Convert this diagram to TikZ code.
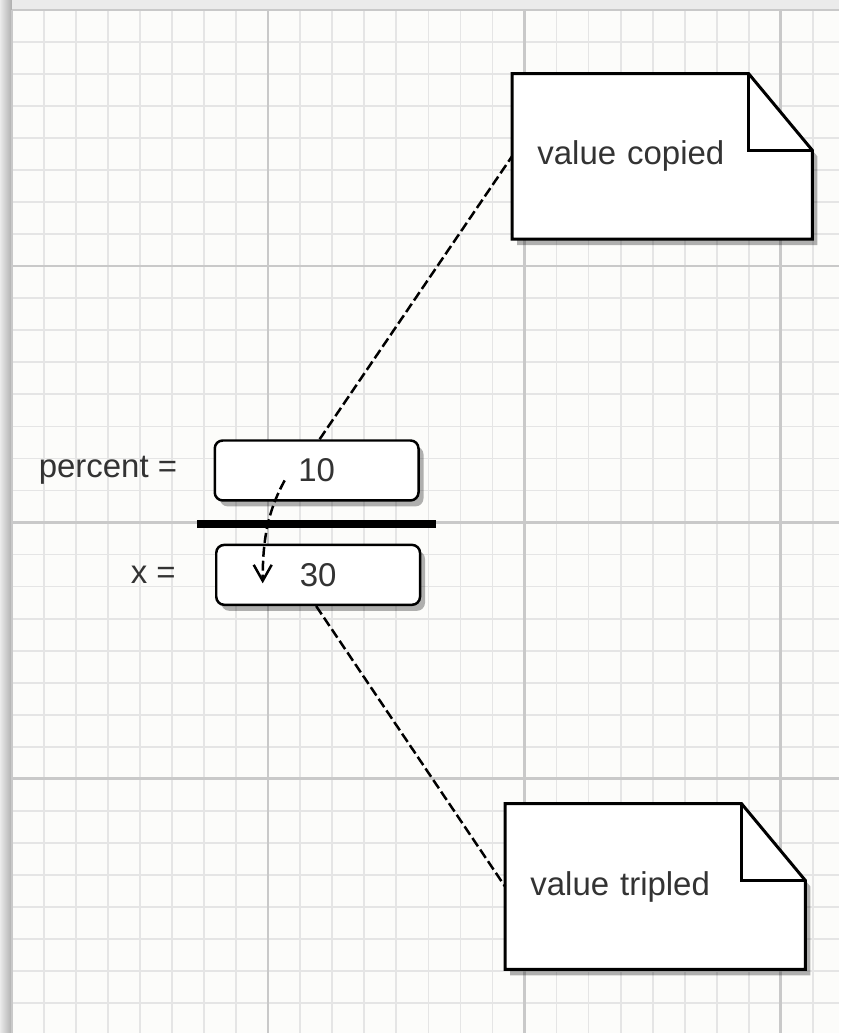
\documentclass[tikz,border=0pt]{standalone}
\usepackage{fontspec}
\setmainfont{Liberation Sans}
\usetikzlibrary{positioning,arrows.meta,backgrounds,shadows}
\definecolor{paper}{HTML}{FCFCFA}
\definecolor{ink}{HTML}{333333}

\begin{document}
\begin{tikzpicture}[x=0.5pt, y=-0.5pt, >=stealth,
    font=\fontsize{16.5}{19}\selectfont,
    minorline/.style={draw=black!10, line width=0.9pt},
    majorline/.style={draw=black!21, line width=1.2pt},
    softshadow/.style={drop shadow={shadow xshift=2.5pt, shadow yshift=-3pt,
        opacity=0.3, fill=black}},
    valbox/.style={draw, line width=1.25pt, rounded corners=4pt, fill=white,
        minimum width=102pt, minimum height=30pt, text=ink, softshadow},
    varlabel/.style={inner sep=0pt, text=ink},
    notebox/.style={text width=125pt, inner xsep=12.5pt, inner ysep=0pt,
        minimum height=82.5pt, align=left, text=ink},
    notepaper/.style={draw, line width=1.5pt, fill=white, softshadow},
    link/.style={line width=1.25pt, dash pattern=on 5pt off 2pt}]

    % 1. paper with grid
    \begin{scope}[on background layer]
    \fill[black!8] (0,0) rectangle (840,1034);
    \shade[left color=black!8, right color=black!32] (0,0) rectangle (12,1034);
    \fill[paper] (12,10) rectangle (840,1034);
    \foreach \k in {0,...,25} {
        \pgfmathsetmacro\gx{12+32.07*\k}
        \draw[minorline] (\gx,10) -- (\gx,1034);
    }
    \foreach \k in {0,...,31} {
        \pgfmathsetmacro\gy{10+32.07*\k}
        \draw[minorline] (12,\gy) -- (840,\gy);
    }
    \foreach \gx in {12,268.5,525,781.5}
        \draw[majorline] (\gx,10) -- (\gx,1034);
    \foreach \gy in {10,266.5,523,779.5}
        \draw[majorline] (12,\gy) -- (840,\gy);
    \end{scope}
    \useasboundingbox (0,0) rectangle (840,1034);

    % 2. the two variables
    \node[valbox] (pct) at (317,471) {10};
    \node[valbox] (xv) at (318.5,575.5) {30};
    \node[varlabel, left=18pt of pct] (pctlabel) {percent =};
    \node[varlabel, left=19.5pt of xv] (xlabel) {x =};
    \draw[line width=4pt] (197,525) -- (437,525);

    % 3. notes with folded corner
    \node[notebox] (copied) at (663,156.5) {value copied};
    \node[notebox] (tripled) at (656,887.5) {value tripled};
    \begin{scope}[on background layer]
    \foreach \n in {copied,tripled}
        \draw[notepaper] (\n.north west) -- ([xshift=-32pt]\n.north east)
            -- ([yshift=-38.5pt]\n.north east) -- (\n.south east)
            -- (\n.south west) -- cycle;
    \end{scope}
    \foreach \n in {copied,tripled}
        \draw[line width=1.5pt] ([xshift=-32pt]\n.north east) |- ([yshift=-38.5pt]\n.north east);

    % 4. dashed connectors
    \draw[link] ([xshift=1.5pt]pct.north) -- (copied.west);
    \draw[link] ([xshift=-1pt]xv.south) -- (tripled.west);
    \coordinate (from) at (285,481);
    \coordinate (to) at (263,584);
    \draw[link, -{Straight Barb[length=8pt, width=9pt]}]
        (from) .. controls (268,512) and (263,540) .. (to);
\end{tikzpicture}
\end{document}
